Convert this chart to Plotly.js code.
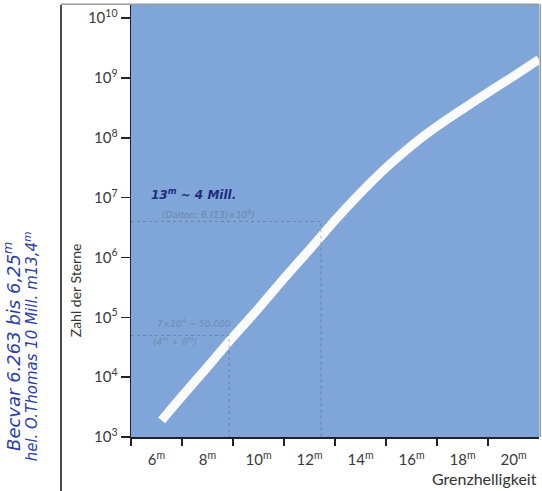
<!DOCTYPE html>
<html>
<head>
<meta charset="utf-8">
<script src="https://cdn.plot.ly/plotly-3.0.1.min.js"></script>
<style>html,body{margin:0;padding:0;background:#fff;}#chart{width:542px;height:491px;}</style>
</head>
<body>
<div id="chart"></div>
<script>
// Grenzhelligkeit (limiting magnitude) and cumulative number of stars
var magnitudes = [6.2, 7, 8, 9, 10, 11, 12, 13, 14, 15, 16, 17, 18, 19, 20, 21];
var starCounts = [1900, 4800, 14800, 47000, 141000, 447000, 1350000, 4200000, 12000000, 31600000, 74000000, 155000000, 300000000, 575000000, 1070000000, 2040000000];

// y tick decades
var yTickVals = [1e3, 1e4, 1e5, 1e6, 1e7, 1e8, 1e9, 1e10];
var yTickText = ['10<sup>3</sup>', '10<sup>4</sup>', '10<sup>5</sup>', '10<sup>6</sup>', '10<sup>7</sup>', '10<sup>8</sup>', '10<sup>9</sup>', '10<sup>10</sup>'];
// x tick labels (even magnitudes) and tick marks (odd magnitudes)
var xLabelVals = [6, 8, 10, 12, 14, 16, 18, 20];
var xLabelText = ['6<sup>m</sup>', '8<sup>m</sup>', '10<sup>m</sup>', '12<sup>m</sup>', '14<sup>m</sup>', '16<sup>m</sup>', '18<sup>m</sup>', '20<sup>m</sup>'];
var xTickVals = [5, 7, 9, 11, 13, 15, 17, 19];

// hand-drawn reading marks
var noteMag = [12.45, 8.85];
var noteCount = [4000000, 50000];

var traces = [
  {x: magnitudes, y: starCounts, type: 'scatter', mode: 'lines',
   line: {color: '#fbfbfb', width: 9, shape: 'spline', smoothing: 0.4},
   hoverinfo: 'skip', showlegend: false}
];
for (var i = 0; i < noteMag.length; i++) {
  traces.push({x: [5, noteMag[i], noteMag[i]], y: [noteCount[i], noteCount[i], 1000],
    type: 'scatter', mode: 'lines', xaxis: 'x2',
    line: {color: 'rgba(70,80,100,0.4)', width: 1, dash: 'dot'},
    hoverinfo: 'skip', showlegend: false});
}

var tickFont = {family: 'Lato, "Open Sans", sans-serif', size: 15, color: '#3a3a3a'};
var hand = '"DejaVu Sans", sans-serif';

var layout = {
  width: 542, height: 491,
  margin: {l: 131, r: 3, t: 5, b: 54},
  paper_bgcolor: '#ffffff',
  plot_bgcolor: '#80a6d9',
  showlegend: false,
  xaxis: {range: [5, 21], tickmode: 'array', tickvals: xTickVals, ticktext: xTickVals.map(function(){return '';}),
    ticks: 'outside', ticklen: 7, tickwidth: 1.5, tickcolor: '#222',
    showline: true, linecolor: '#222', linewidth: 1.5, showgrid: false, zeroline: false, fixedrange: true},
  xaxis2: {overlaying: 'x', anchor: 'y', side: 'bottom', range: [5, 21], tickmode: 'array',
    tickvals: xLabelVals, ticktext: xLabelText, ticks: 'outside', ticklen: 9, tickcolor: 'rgba(0,0,0,0)',
    tickfont: tickFont, showline: false, showgrid: false, zeroline: false, fixedrange: true},
  yaxis: {type: 'log', range: [3, 10.22], tickmode: 'array', tickvals: yTickVals, ticktext: yTickText,
    ticks: 'outside', ticklen: 9, tickwidth: 1.5, tickcolor: '#222', tickfont: tickFont,
    showline: true, linecolor: '#222', linewidth: 1.5, showgrid: false, zeroline: false, fixedrange: true},
  shapes: [
    {type: 'line', xref: 'paper', yref: 'paper', x0: -0.1716, x1: -0.1716, y0: 1.0, y1: -0.13, line: {color: '#111', width: 1.5}},
    {type: 'line', xref: 'paper', yref: 'paper', x0: -0.1716, x1: 1.0, y0: 1.002, y1: 1.002, line: {color: '#9a9a9a', width: 1.5}},
    {type: 'line', xref: 'paper', yref: 'paper', x0: 1.003, x1: 1.003, y0: 1.002, y1: 0, line: {color: '#8d98a8', width: 1.5}}
  ],
  annotations: [
    {text: 'Grenzhelligkeit', xref: 'paper', yref: 'paper', x: 1.0, y: -0.095, xanchor: 'right', yanchor: 'middle',
     showarrow: false, font: {family: 'Lato, sans-serif', size: 16, color: '#333'}},
    {text: 'Zahl der Sterne', xref: 'paper', yref: 'paper', x: -0.137, y: 0.34, xanchor: 'center', yanchor: 'middle',
     textangle: -90, showarrow: false, font: {family: 'Lato, sans-serif', size: 14, color: '#333'}},
    {text: '13<sup>m</sup> ~ 4 Mill.', xref: 'paper', yref: 'paper', x: 0.045, y: 0.54, xanchor: 'left', yanchor: 'bottom',
     showarrow: false, font: {family: hand, size: 12, color: '#1d2e7e', style: 'italic', weight: 'bold'}},
    {text: '(Dalton: 6,(13)×10<sup>6</sup>)', xref: 'paper', yref: 'paper', x: 0.07, y: 0.535, xanchor: 'left', yanchor: 'top',
     showarrow: false, font: {family: hand, size: 9, color: 'rgba(90,100,120,0.5)', style: 'italic'}},
    {text: '7×10<sup>4</sup> ~ 50.000', xref: 'paper', yref: 'paper', x: 0.06, y: 0.245, xanchor: 'left', yanchor: 'bottom',
     showarrow: false, font: {family: hand, size: 9, color: 'rgba(90,100,120,0.45)', style: 'italic'}},
    {text: '(4<sup>m</sup> ÷ 6<sup>m</sup>)', xref: 'paper', yref: 'paper', x: 0.05, y: 0.24, xanchor: 'left', yanchor: 'top',
     showarrow: false, font: {family: hand, size: 9, color: 'rgba(90,100,120,0.45)', style: 'italic'}},
    {text: 'Becvar 6.263 bis 6,25<sup>m</sup>', xref: 'paper', yref: 'paper', x: -0.29, y: 0.21, xanchor: 'center', yanchor: 'middle',
     textangle: -90, showarrow: false, font: {family: hand, size: 18, color: '#2a40a8', style: 'italic'}},
    {text: 'hel. O.Thomas 10 Mill. m13,4<sup>m</sup>', xref: 'paper', yref: 'paper', x: -0.245, y: 0.21, xanchor: 'center', yanchor: 'middle',
     textangle: -90, showarrow: false, font: {family: hand, size: 15, color: '#2a40a8', style: 'italic'}}
  ]
};

Plotly.newPlot('chart', traces, layout, {displayModeBar: false, staticPlot: true});
</script>
</body>
</html>
